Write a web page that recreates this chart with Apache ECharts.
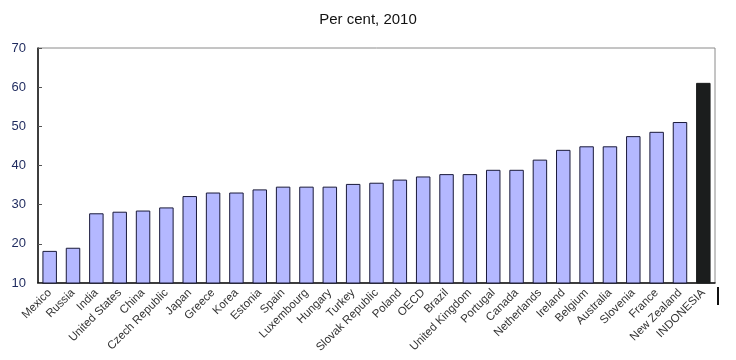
<!DOCTYPE html>
<html>
<head>
<meta charset="utf-8">
<script src="https://cdn.jsdelivr.net/npm/echarts@6/dist/echarts.min.js"></script>
<style>html,body{margin:0;padding:0;background:#fff;}#c{width:736px;height:360px;}</style>
</head>
<body>
<div id="c"></div>
<script>
var categories = ["Mexico","Russia","India","United States","China","Czech Republic","Japan","Greece","Korea","Estonia","Spain","Luxembourg","Hungary","Turkey","Slovak Republic","Poland","OECD","Brazil","United Kingdom","Portugal","Canada","Netherlands","Ireland","Belgium","Australia","Slovenia","France","New Zealand","INDONESIA"];
var values = [18.2,19.0,27.8,28.2,28.5,29.3,32.2,33.1,33.1,33.9,34.6,34.6,34.6,35.3,35.6,36.4,37.2,37.8,37.8,38.9,38.9,41.5,44.0,44.9,44.9,47.5,48.6,51.1,61.1];
var highlight = "INDONESIA";
var yTicks = [10,20,30,40,50,60,70];

var chart = echarts.init(document.getElementById('c'), null, {renderer:'canvas'});
var data = values.map(function(v,i){
  if (categories[i] === highlight) {
    return {value:v, itemStyle:{color:'#1b1d1d', borderColor:'#1b1d1d'}};
  }
  return v;
});
chart.setOption({
  animation:false,
  title:{text:'Per cent, 2010', left:'center', top:7,
    textStyle:{fontFamily:'Liberation Sans', fontSize:15, fontWeight:'normal', color:'#111'}},
  grid:{left:38, right:21, top:48, bottom:77, show:true, borderColor:'#8a8a8a', borderWidth:1},
  xAxis:{type:'category', data:categories,
    axisLine:{lineStyle:{color:'#111', width:1.5}},
    axisTick:{show:false},
    axisLabel:{rotate:45, interval:0, fontFamily:'Liberation Sans', fontSize:11.5, color:'#333', margin:8}},
  yAxis:{type:'value', min:yTicks[0], max:yTicks[yTicks.length-1], interval:10,
    splitLine:{show:false},
    axisLine:{show:true, lineStyle:{color:'#111', width:1.5}},
    axisTick:{show:true, inside:true, length:4, lineStyle:{color:'#555'}},
    axisLabel:{fontFamily:'Liberation Sans', fontSize:13, color:'#1e2a5e', margin:12}},
  series:[{type:'bar', data:data, barWidth:'62%',
    itemStyle:{color:'#b4b8ff', borderColor:'#1a1a3a', borderWidth:1}}],
  graphic:[{type:'line', shape:{x1:718, y1:287, x2:718, y2:305}, style:{stroke:'#111', lineWidth:2}}]
});
</script>
</body>
</html>
